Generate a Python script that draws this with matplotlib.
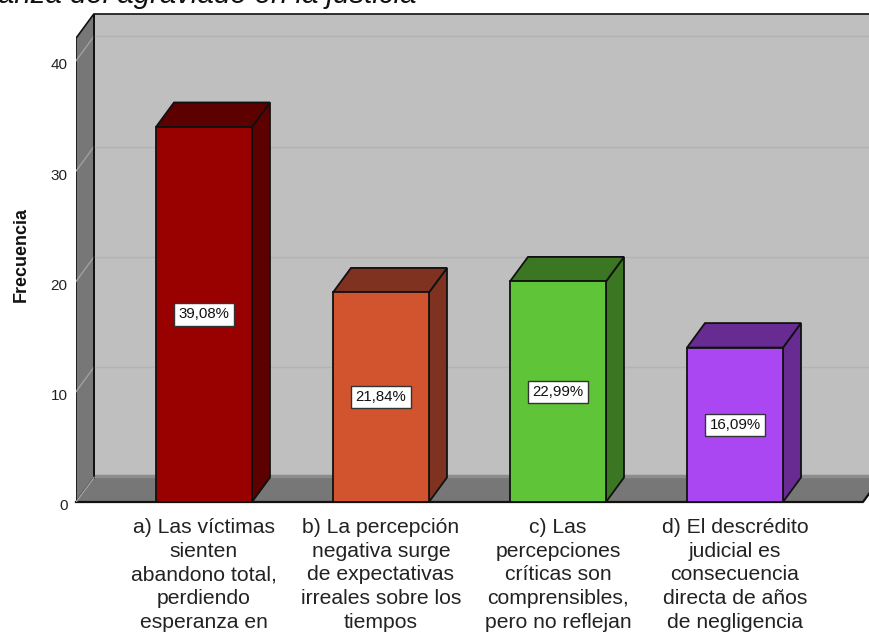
import matplotlib
matplotlib.use('Agg')
import matplotlib.pyplot as plt
from matplotlib.transforms import ScaledTranslation

plt.rcParams['font.family'] = ['Liberation Sans', 'DejaVu Sans']

# datos
categorias = [
    'a) Las víctimas\nsienten\nabandono total,\nperdiendo\nesperanza en',
    'b) La percepción\nnegativa surge\nde expectativas\nirreales sobre los\ntiempos',
    'c) Las\npercepciones\ncríticas son\ncomprensibles,\npero no reflejan',
    'd) El descrédito\njudicial es\nconsecuencia\ndirecta de años\nde negligencia',
]
frecuencias = [34, 19, 20, 14]
porcentajes = ['39,08%', '21,84%', '22,99%', '16,09%']
ticks_y = [0, 10, 20, 30, 40]
colores_frente = ['#990000', '#d1542f', '#5fc437', '#ab47f2']
colores_lado = ['#5c0000', '#7f3220', '#3b7722', '#672b92']

W, H = 870, 632
PX_X = 177.0  # pixeles por categoria
PX_Y = 11.03  # pixeles por unidad
dx = 18 / PX_X  # profundidad 3d
dy = 24.5 / PX_Y
ancho = 96 / PX_X
tope = 42.05  # valor del borde alto del panel

fig = plt.figure(figsize=(W / 100, H / 100), dpi=100, facecolor='white')
izq, der = 76, 870
y0, y_top = 502, 14
ax = fig.add_axes([izq / W, 1 - y0 / H, (der - izq) / W, (y0 - y_top) / H])
x0 = -0.723
x1 = 3.723
ax.set_xlim(x0, (der - 204) / PX_X)
ax.set_ylim(0, (y0 - y_top) / PX_Y)
for s in ax.spines.values():
    s.set_visible(False)
ax.patch.set_visible(False)

NEGRO = '#111111'

# pared de fondo, pared lateral y piso
ax.fill([x0 + dx, x1 + dx, x1 + dx, x0 + dx], [dy, dy, tope + dy, tope + dy],
        facecolor='#bfbfbf', edgecolor=NEGRO, lw=1.2, zorder=1, clip_on=False)
ax.fill([x0, x0 + dx, x0 + dx, x0], [0, dy, tope + dy, tope],
        facecolor='#777777', edgecolor=NEGRO, lw=1.2, zorder=2)
ax.fill([x0, x1, x1 + dx, x0 + dx], [0, 0, dy, dy],
        facecolor='#777777', edgecolor='none', zorder=2, clip_on=False)
ax.plot([x0 + dx, x1 + dx], [dy + 0.1, dy + 0.1], color='#8c8c8c', lw=2.5, zorder=2, clip_on=False)
ax.plot([x0, x1, x1 + dx], [0, 0, dy], color=NEGRO, lw=1.6, zorder=3, clip_on=False)
ax.plot([x0 + dx, x0 + dx], [dy, tope + dy], color=NEGRO, lw=1.2, zorder=3)
ax.plot([x0, x0 + dx], [0, dy], color='#a8a8a8', lw=0.9, zorder=3)

# lineas de la reticula
for t in ticks_y[1:]:
    ax.plot([x0, x0 + dx], [t, t + dy], color='#a0a0a0', lw=1.0, zorder=2.5)
    ax.plot([x0 + dx, x1 + dx], [t + dy, t + dy], color='#b3b3b3', lw=1.0, zorder=1.5, clip_on=False)

# barras
for i, v in enumerate(frecuencias):
    a = i - ancho / 2
    b = i + ancho / 2
    ax.fill([a, b, b, a], [0, 0, v, v], facecolor=colores_frente[i],
            edgecolor=NEGRO, lw=1.3, zorder=5, joinstyle='miter')
    ax.fill([b, b + dx, b + dx, b], [0, dy, v + dy, v], facecolor=colores_lado[i],
            edgecolor=NEGRO, lw=1.3, zorder=4, joinstyle='miter')
    ax.fill([a, b, b + dx, a + dx], [v, v, v + dy, v + dy], facecolor=colores_lado[i],
            edgecolor=NEGRO, lw=1.3, zorder=4, joinstyle='miter')
    ax.text(i, v / 2, porcentajes[i], ha='center', va='center', fontsize=10.8,
            color='#111111', zorder=6,
            bbox=dict(boxstyle='square,pad=0.28', facecolor='white', edgecolor='#333333', lw=1.0))

ax.set_xticks(range(len(categorias)))
ax.set_xticklabels(categorias, fontsize=15.2, color='#222222', linespacing=1.315)
ax.tick_params(axis='x', length=0, pad=11.5)
ax.set_yticks(ticks_y)
ax.set_yticklabels([str(t) for t in ticks_y], fontsize=11, color='#222222')
ax.tick_params(axis='y', length=0, pad=6)
bajar = ScaledTranslation(0, -3 / 100, fig.dpi_scale_trans)
for lab in ax.get_yticklabels():
    lab.set_transform(lab.get_transform() + bajar)

fig.text(21 / W, 1 - 255 / H, 'Frecuencia', rotation=90, ha='center', va='center',
         fontsize=13, fontweight='bold', color='#111111')
fig.text(-2 / W, 1 - 3 / H, 'anza del agraviado en la justicia', ha='left', va='baseline',
         fontsize=21.2, style='italic', color='#111111')

fig.savefig('out.png', dpi=100)
